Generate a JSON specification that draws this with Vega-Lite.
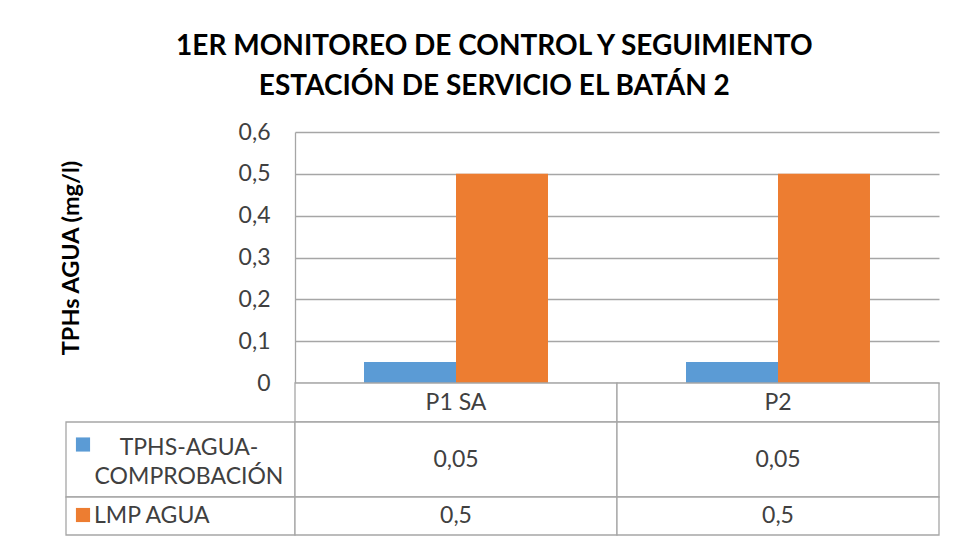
{
  "$schema": "https://vega.github.io/schema/vega-lite/v6.json",
  "background": "white",
  "padding": {"left": 59, "top": 33, "right": 17, "bottom": 13},
  "title": {
    "text": ["1ER MONITOREO DE CONTROL Y SEGUIMIENTO", "ESTACIÓN DE SERVICIO EL BATÁN 2"],
    "font": "Lato",
    "fontSize": 28,
    "fontWeight": "bold",
    "color": "#000000",
    "lineHeight": 40,
    "anchor": "middle",
    "dx": -5,
    "offset": 20
  },
  "config": {
    "locale": {"number": {"decimal": ",", "thousands": ".", "grouping": [3], "currency": ["", " €"]}},
    "font": "Lato",
    "view": {"stroke": null}
  },
  "datasets": {
    "d": [
      {"punto": "P1 SA", "serie": "TPHS-AGUA-COMPROBACIÓN", "valor": 0.05},
      {"punto": "P2", "serie": "TPHS-AGUA-COMPROBACIÓN", "valor": 0.05},
      {"punto": "P1 SA", "serie": "LMP AGUA", "valor": 0.5},
      {"punto": "P2", "serie": "LMP AGUA", "valor": 0.5}
    ]
  },
  "columns": 2,
  "spacing": 0,
  "bounds": "flush",
  "concat": [
    {
      "width": 229,
      "height": 251,
      "data": {"values": []},
      "mark": "point",
      "encoding": {}
    },
    {
      "width": 644,
      "height": 251,
      "data": {"name": "d"},
      "mark": {"type": "bar"},
      "encoding": {
        "x": {"field": "punto", "type": "nominal", "sort": ["P1 SA", "P2"], "axis": null,
              "scale": {"paddingInner": 0.4286, "paddingOuter": 0.2143}},
        "xOffset": {"field": "serie", "type": "nominal", "sort": ["TPHS-AGUA-COMPROBACIÓN", "LMP AGUA"],
                    "scale": {"paddingInner": 0, "paddingOuter": 0}},
        "y": {"field": "valor", "type": "quantitative",
              "scale": {"domain": [0, 0.6], "nice": false},
              "axis": {
                "title": "TPHs AGUA (mg/l)",
                "values": [0, 0.1, 0.2, 0.3, 0.4, 0.5, 0.6],
                "format": ".1~f",
                "grid": true,
                "gridColor": "#a6a6a6",
                "gridWidth": 1.3,
                "domain": true,
                "domainColor": "#a6a6a6",
                "domainWidth": 1.3,
                "ticks": false,
                "tickSize": 0,
                "labelPadding": 25,
                "labelFontSize": 23,
                "labelColor": "#404040",
                "labelFont": "Lato",
                "titleFont": "Lato",
                "titleFontSize": 23.5,
                "titleFontWeight": "bold",
                "titleColor": "#000000",
                "titleX": -212,
                "titleY": 125.5
              }},
        "color": {"field": "serie", "type": "nominal",
                  "scale": {"domain": ["TPHS-AGUA-COMPROBACIÓN", "LMP AGUA"], "range": ["#5b9bd5", "#ed7d31"]},
                  "legend": null}
      }
    },
    {
      "width": 229,
      "height": 39,
      "data": {"values": []},
      "mark": "point",
      "encoding": {}
    },
    {
      "width": 644,
      "height": 39,
      "data": {"name": "d"},
      "transform": [{"filter": "datum.serie === 'LMP AGUA'"}],
      "encoding": {
        "x": {"field": "punto", "type": "nominal", "sort": ["P1 SA", "P2"], "axis": null,
              "scale": {"paddingInner": 0, "paddingOuter": 0}}
      },
      "layer": [
        {"mark": {"type": "rect", "fill": "white", "stroke": "#a6a6a6", "strokeWidth": 1.3}},
        {"mark": {"type": "text", "fontSize": 23, "color": "#404040", "font": "Lato"},
         "encoding": {"text": {"field": "punto", "type": "nominal"}}}
      ]
    },
    {
      "width": 229,
      "height": 75,
      "data": {"values": [{"serie": "TPHS-AGUA-COMPROBACIÓN", "etiqueta": "TPHS-AGUA-\nCOMPROBACIÓN"}]},
      "layer": [
        {"mark": {"type": "rect", "fill": "white", "stroke": "#a6a6a6", "strokeWidth": 1.3}, "encoding": {}},
        {"mark": {"type": "square", "size": 200, "filled": true, "opacity": 1, "color": "#5b9bd5", "xOffset": -97.5, "yOffset": -15},
         "encoding": {}},
        {"mark": {"type": "text", "fontSize": 23, "color": "#404040", "font": "Lato", "lineBreak": "\n", "lineHeight": 29, "dx": 8.5, "dy": -12},
         "encoding": {"text": {"field": "etiqueta", "type": "nominal"}}}
      ]
    },
    {
      "width": 644,
      "height": 75,
      "data": {"name": "d"},
      "transform": [{"filter": "datum.serie === 'TPHS-AGUA-COMPROBACIÓN'"}],
      "encoding": {
        "x": {"field": "punto", "type": "nominal", "sort": ["P1 SA", "P2"], "axis": null,
              "scale": {"paddingInner": 0, "paddingOuter": 0}}
      },
      "layer": [
        {"mark": {"type": "rect", "fill": "white", "stroke": "#a6a6a6", "strokeWidth": 1.3}},
        {"mark": {"type": "text", "fontSize": 23, "color": "#404040", "font": "Lato"},
         "encoding": {"text": {"field": "valor", "type": "quantitative", "format": "~g"}}}
      ]
    },
    {
      "width": 229,
      "height": 38,
      "data": {"values": [{"serie": "LMP AGUA", "etiqueta": "LMP AGUA"}]},
      "layer": [
        {"mark": {"type": "rect", "fill": "white", "stroke": "#a6a6a6", "strokeWidth": 1.3}, "encoding": {}},
        {"mark": {"type": "square", "size": 200, "filled": true, "opacity": 1, "color": "#ed7d31", "xOffset": -97.5, "yOffset": -1},
         "encoding": {}},
        {"mark": {"type": "text", "fontSize": 23, "color": "#404040", "font": "Lato", "align": "left", "dx": -86.5, "dy": 0},
         "encoding": {"text": {"field": "etiqueta", "type": "nominal"}}}
      ]
    },
    {
      "width": 644,
      "height": 38,
      "data": {"name": "d"},
      "transform": [{"filter": "datum.serie === 'LMP AGUA'"}],
      "encoding": {
        "x": {"field": "punto", "type": "nominal", "sort": ["P1 SA", "P2"], "axis": null,
              "scale": {"paddingInner": 0, "paddingOuter": 0}}
      },
      "layer": [
        {"mark": {"type": "rect", "fill": "white", "stroke": "#a6a6a6", "strokeWidth": 1.3}},
        {"mark": {"type": "text", "fontSize": 23, "color": "#404040", "font": "Lato"},
         "encoding": {"text": {"field": "valor", "type": "quantitative", "format": "~g"}}}
      ]
    }
  ]
}
